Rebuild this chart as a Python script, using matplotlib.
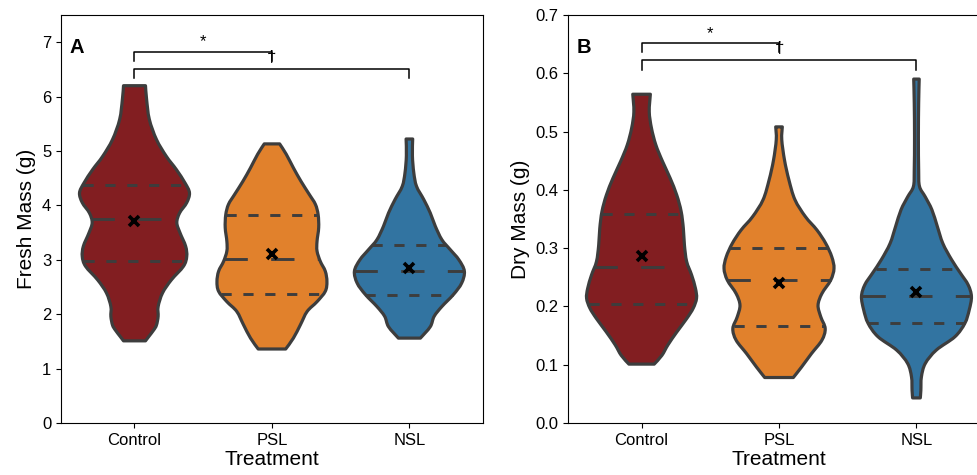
import numpy as np
import matplotlib.pyplot as plt
from matplotlib.path import Path
from matplotlib.patches import PathPatch

plt.rcParams['font.family'] = ['Liberation Sans', 'DejaVu Sans']

treatments = ["Control", "PSL", "NSL"]
colors = ["#821e21", "#e1812c", "#3274a1"]
edge = "#3d3d3d"

# violin outlines: y value and relative half-width (1 = widest)
fresh_ctrl_y = [6.20, 5.95, 5.58, 5.21, 4.90, 4.66, 4.41, 4.23, 4.05, 3.86, 3.68, 3.49, 3.25,
                3.06, 2.88, 2.63, 2.39, 2.14, 1.96, 1.80, 1.71, 1.59, 1.51]
fresh_ctrl_w = [0.20, 0.22, 0.27, 0.40, 0.58, 0.76, 0.92, 1.00, 0.95, 0.82, 0.77, 0.83, 0.93,
                0.95, 0.89, 0.67, 0.51, 0.43, 0.43, 0.40, 0.35, 0.26, 0.20]
fresh_psl_y = [5.13, 4.94, 4.69, 4.44, 4.20, 4.02, 3.83, 3.59, 3.34, 3.16, 2.97, 2.79, 2.60,
               2.42, 2.23, 2.05, 1.81, 1.56, 1.36]
fresh_psl_w = [0.14, 0.26, 0.39, 0.53, 0.68, 0.79, 0.84, 0.85, 0.82, 0.82, 0.88, 0.97, 1.00,
               0.97, 0.82, 0.64, 0.52, 0.39, 0.25]
fresh_nsl_y = [5.22, 4.91, 4.60, 4.35, 4.11, 3.86, 3.62, 3.37, 3.19, 3.00, 2.79, 2.57, 2.36,
               2.14, 1.96, 1.77, 1.56]
fresh_nsl_w = [0.06, 0.055, 0.08, 0.13, 0.26, 0.38, 0.47, 0.59, 0.74, 0.90, 1.00, 0.95, 0.80,
               0.59, 0.45, 0.38, 0.20]

dry_ctrl_y = [0.564, 0.534, 0.506, 0.477, 0.449, 0.420, 0.391, 0.363, 0.334, 0.305, 0.277,
              0.254, 0.231, 0.214, 0.197, 0.179, 0.156, 0.134, 0.116, 0.101]
dry_ctrl_w = [0.16, 0.14, 0.18, 0.26, 0.38, 0.52, 0.64, 0.72, 0.76, 0.78, 0.82,
              0.91, 0.98, 1.00, 0.94, 0.82, 0.64, 0.48, 0.37, 0.23]
dry_psl_y = [0.508, 0.486, 0.451, 0.417, 0.383, 0.354, 0.331, 0.308, 0.285, 0.265, 0.245,
             0.222, 0.202, 0.182, 0.162, 0.142, 0.119, 0.096, 0.078]
dry_psl_w = [0.06, 0.05, 0.10, 0.18, 0.29, 0.48, 0.69, 0.85, 0.96, 1.00, 0.94,
             0.78, 0.71, 0.76, 0.84, 0.78, 0.59, 0.41, 0.26]
dry_nsl_y = [0.590, 0.549, 0.491, 0.434, 0.406, 0.388, 0.366, 0.337, 0.308, 0.280, 0.257,
             0.237, 0.217, 0.194, 0.171, 0.148, 0.125, 0.102, 0.079, 0.056, 0.043]
dry_nsl_w = [0.05, 0.04, 0.035, 0.04, 0.055, 0.16, 0.28, 0.38, 0.48, 0.64, 0.80,
             0.94, 1.00, 0.96, 0.88, 0.70, 0.36, 0.16, 0.09, 0.08, 0.07]

# quartiles and means
fresh_q1 = [2.98, 2.37, 2.36]
fresh_med = [3.75, 3.02, 2.79]
fresh_q3 = [4.38, 3.83, 3.27]
fresh_mean = [3.71, 3.11, 2.85]
dry_q1 = [0.204, 0.167, 0.171]
dry_med = [0.267, 0.246, 0.218]
dry_q3 = [0.358, 0.300, 0.265]
dry_mean = [0.286, 0.241, 0.225]

# significance brackets: (bar y, tick bottom y)
fresh_brackets = [(6.82, 6.66), (6.51, 6.35)]
dry_brackets = [(0.652, 0.636), (0.622, 0.606)]
fresh_marks = [("*", 0.5, 6.93), ("\u2020", 1, 6.64)]
dry_marks = [("*", 0.5, 0.661), ("\u2020", 1, 0.635)]

fig = plt.figure(figsize=(9.77, 4.75), dpi=100)
ax1 = fig.add_axes([0.0624, 0.1095, 0.4319, 0.859])
ax2 = fig.add_axes([0.5814, 0.1095, 0.4319, 0.859])


def smooth_side(pts):
    # catmull-rom through the outline points, as cubic bezier segments
    p = np.vstack([pts[:1], pts, pts[-1:]])
    verts, codes = [], []
    for k in range(1, len(p) - 2):
        c1 = p[k] + (p[k + 1] - p[k - 1]) / 6
        c2 = p[k + 1] - (p[k + 2] - p[k]) / 6
        verts += [c1, c2, p[k + 1]]
        codes += [Path.CURVE4] * 3
    return verts, codes


def violin_path(pos, py, hw):
    right = np.column_stack([pos + hw, py])
    left = np.column_stack([pos - hw, py])[::-1]
    verts, codes = [right[0]], [Path.MOVETO]
    v, c = smooth_side(right)
    verts += v
    codes += c
    verts.append(left[0])
    codes.append(Path.LINETO)
    v, c = smooth_side(left)
    verts += v
    codes += c
    verts.append(right[0])
    codes.append(Path.CLOSEPOLY)
    return Path(verts, codes)


def draw_panel(ax, profiles, q1, med, q3, means, brackets, marks, ylabel, letter):
    for i, (py, pw) in enumerate(profiles):
        py = np.array(py)
        hw = np.array(pw) * 0.4
        ax.add_patch(PathPatch(violin_path(i, py, hw), facecolor=colors[i], edgecolor=edge,
                               linewidth=2.3, joinstyle="round", zorder=2))
        order = np.argsort(py)
        for q, dash in [(q1[i], (3.5, 4.0)), (q3[i], (3.5, 4.0)), (med[i], (8.0, 8.0))]:
            w = np.interp(q, py[order], hw[order])
            ax.plot([i - w, i + w], [q, q], color=edge, lw=2.1, dashes=dash, zorder=3)
        ax.plot(i, means[i], marker="x", color="black", ms=7, mew=2.6, zorder=4)
    (y1, t1), (y2, t2) = brackets
    ax.plot([0, 0, 1, 1], [t1, y1, y1, t1], color="black", lw=1.1)
    ax.plot([0, 0, 2, 2], [t2, y2, y2, t2], color="black", lw=1.1)
    for s, x, y in marks:
        ax.text(x, y, s, ha="center", va="baseline", fontsize=12)
    ax.text(0.02, 0.943, letter, transform=ax.transAxes, fontsize=14.5,
            fontweight="bold", va="top", ha="left")
    ax.set_xlim(-0.535, 2.535)
    ax.set_xticks(range(3))
    ax.set_xticklabels(treatments)
    ax.set_xlabel("Treatment", fontsize=15, labelpad=2)
    ax.set_ylabel(ylabel, fontsize=15)
    ax.tick_params(labelsize=12)


draw_panel(ax1, [(fresh_ctrl_y, fresh_ctrl_w), (fresh_psl_y, fresh_psl_w), (fresh_nsl_y, fresh_nsl_w)],
           fresh_q1, fresh_med, fresh_q3, fresh_mean, fresh_brackets, fresh_marks,
           "Fresh Mass (g)", "A")
ax1.set_ylim(0, 7.5)
ax1.set_yticks(range(8))

draw_panel(ax2, [(dry_ctrl_y, dry_ctrl_w), (dry_psl_y, dry_psl_w), (dry_nsl_y, dry_nsl_w)],
           dry_q1, dry_med, dry_q3, dry_mean, dry_brackets, dry_marks,
           "Dry Mass (g)", "B")
ax2.set_ylim(0, 0.7)
ax2.set_yticks(np.arange(0, 0.71, 0.1))
ax2.set_yticklabels([f"{v:.1f}" for v in np.arange(0, 0.71, 0.1)])

fig.savefig("out.png", dpi=100)
